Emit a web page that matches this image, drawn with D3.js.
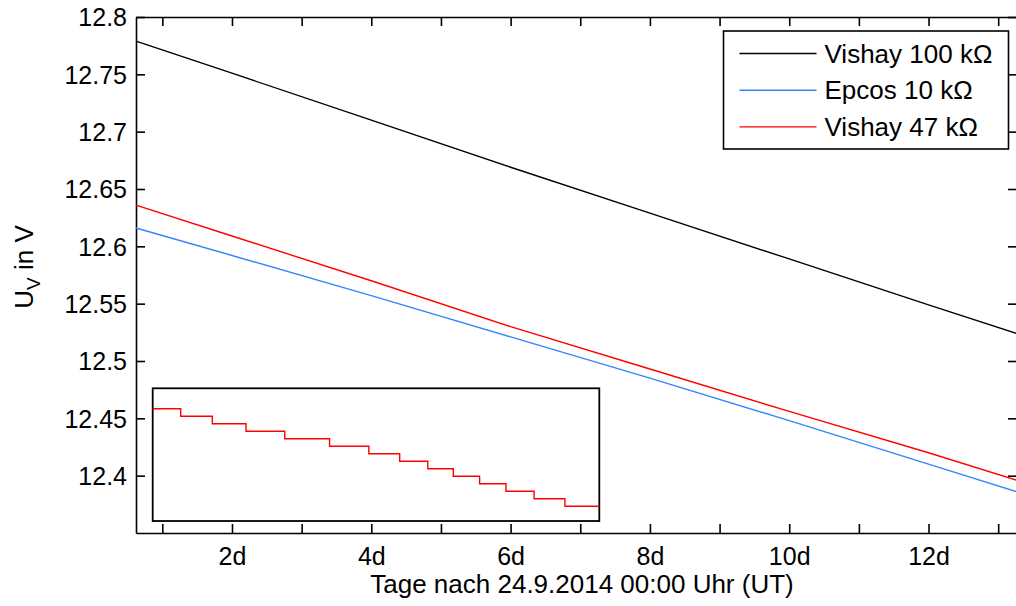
<!DOCTYPE html>
<html>
<head>
<meta charset="utf-8">
<script src="https://cdn.jsdelivr.net/npm/d3@7"></script>
<style>
	body { margin: 0; background: #fff; }
	svg { display: block; font-family: "Liberation Sans", Arial, sans-serif; }
	.axis path, .axis line { stroke: #000; stroke-width: 1.6px; }
	.axis text { font-size: 25px; fill: #000; font-family: "Liberation Sans", Arial, sans-serif; }
</style>
</head>
<body>
<svg id="chart" width="1016" height="606"></svg>
<script>
// days after 24.9.2014 00:00 UT
var days = [0.622, 2, 4, 6, 8, 10, 12, 13.27];
var vishay100 = [12.779, 12.751, 12.710, 12.669, 12.629, 12.589, 12.549, 12.524];
var epcos10 = [12.616, 12.592, 12.557, 12.521, 12.485, 12.448, 12.410, 12.386];
var vishay47 = [12.636, 12.609, 12.570, 12.530, 12.493, 12.456, 12.420, 12.396];
var seriesNames = ["Vishay 100 k\u03A9", "Epcos 10 k\u03A9", "Vishay 47 k\u03A9"];
var seriesColors = ["#000000", "#3385ff", "#ff0000"];

var xTicks = [1, 2, 3, 4, 5, 6, 7, 8, 9, 10, 11, 12, 13];
var yTicks = [12.4, 12.45, 12.5, 12.55, 12.6, 12.65, 12.7, 12.75, 12.8];

// inset: zoomed red curve, quantised steps (relative time, ADC counts)
var insetTime = [0, 6.27, 13.35, 20.9, 29.56, 39.6, 48.4, 55.3, 61.6, 67.3, 73.2, 79.1, 85.4, 92.3, 100];
var insetLevel = [0, -1, -2, -3, -4, -5, -6, -7, -8, -9, -10, -11, -12, -13, -13];

var margin = {top: 17, right: -1, bottom: 73, left: 136};
var W = 1016, H = 606;
var width = W - margin.left - margin.right,
	height = H - margin.top - margin.bottom;

var svg = d3.select("#chart");
var g = svg.append("g")
	.attr("transform", "translate(" + margin.left + "," + margin.top + ")");

var x = d3.scaleLinear().domain([0.622, 13.27]).range([0, width]);
var y = d3.scaleLinear().domain([12.35, 12.8]).range([height, 0]);

// axes, ticks pointing inward like matlab
var xAxis = g.append("g")
	.attr("class", "axis")
	.attr("transform", "translate(0," + height + ")")
	.call(d3.axisBottom(x).tickValues(xTicks).tickSize(-9).tickSizeOuter(0).tickPadding(14)
		.tickFormat(function(d) { return d % 2 == 0 ? d + "d" : ""; }));
g.append("g")
	.attr("class", "axis")
	.call(d3.axisTop(x).tickValues(xTicks).tickSize(-9).tickSizeOuter(0).tickFormat(""));
var yAxis = g.append("g")
	.attr("class", "axis")
	.call(d3.axisLeft(y).tickValues(yTicks).tickSize(-9).tickSizeOuter(0).tickPadding(9)
		.tickFormat(function(d) { return d3.format("")(+d.toFixed(2)); }));
g.append("g")
	.attr("class", "axis")
	.attr("transform", "translate(" + width + ",0)")
	.call(d3.axisRight(y).tickValues(yTicks).tickSize(-9).tickSizeOuter(0).tickFormat(""));

xAxis.selectAll("text").attr("dy", "0.71em");
yAxis.selectAll("text").attr("dy", "0.35em");

// data lines
var line = d3.line()
	.x(function(d) { return x(d[0]); })
	.y(function(d) { return y(d[1]); });

[vishay100, epcos10, vishay47].forEach(function(values, i) {
	g.append("path")
		.datum(days.map(function(d, j) { return [d, values[j]]; }))
		.attr("d", line)
		.attr("fill", "none")
		.attr("stroke", seriesColors[i])
		.attr("stroke-width", 1.4);
});

// inset
var inset = {left: 16.7, top: 371.3, width: 446.6, height: 132.7};
var ix = d3.scaleLinear().domain([0, 100]).range([0, inset.width]);
var iy = d3.scaleLinear().domain([-14.96, 2.72]).range([inset.height, 0]);
var ig = g.append("g")
	.attr("transform", "translate(" + inset.left + "," + inset.top + ")");
ig.append("rect")
	.attr("width", inset.width)
	.attr("height", inset.height)
	.attr("fill", "#fff")
	.attr("stroke", "#000")
	.attr("stroke-width", 1.8);
ig.append("path")
	.datum(insetTime.map(function(t, i) { return [t, insetLevel[i]]; }))
	.attr("d", d3.line().curve(d3.curveStepAfter)
		.x(function(d) { return ix(d[0]); })
		.y(function(d) { return iy(d[1]); }))
	.attr("fill", "none")
	.attr("stroke", "#ff0000")
	.attr("stroke-width", 1.4);

// legend
var legend = svg.append("g").attr("transform", "translate(723.5,31)");
legend.append("rect")
	.attr("width", 285)
	.attr("height", 118)
	.attr("fill", "#fff")
	.attr("stroke", "#000")
	.attr("stroke-width", 1.6);
var items = legend.selectAll(".item")
	.data(seriesNames)
	.enter().append("g")
	.attr("class", "item")
	.attr("transform", function(d, i) { return "translate(0," + (22.5 + i * 36.7) + ")"; });
items.append("line")
	.attr("x1", 16).attr("x2", 93)
	.attr("stroke", function(d, i) { return seriesColors[i]; })
	.attr("stroke-width", 1.4);
items.append("text")
	.attr("x", 101)
	.attr("dy", "0.35em")
	.attr("font-size", 26)
	.text(function(d) { return d; });

// axis labels
svg.append("text")
	.attr("x", 582)
	.attr("y", 593)
	.attr("text-anchor", "middle")
	.attr("font-size", 26)
	.text("Tage nach 24.9.2014 00:00 Uhr (UT)");

var ylab = svg.append("text")
	.attr("transform", "translate(33,267) rotate(-90)")
	.attr("text-anchor", "middle")
	.attr("font-size", 26);
ylab.append("tspan").text("U");
ylab.append("tspan").attr("font-size", 19).attr("dy", 7).text("V");
ylab.append("tspan").attr("dy", -7).text(" in V");
</script>
</body>
</html>
